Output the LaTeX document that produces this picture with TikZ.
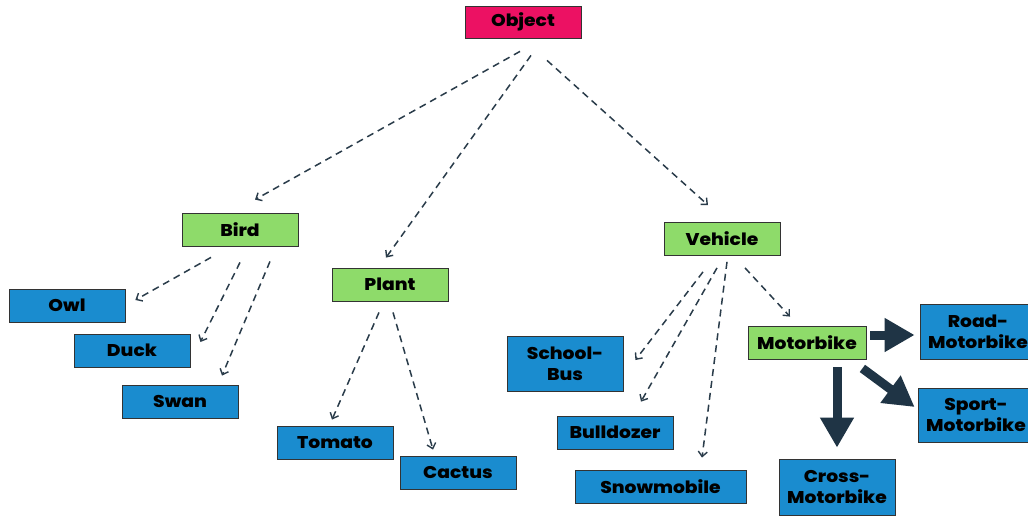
\documentclass[tikz,border=0pt]{standalone}
\usepackage{fontspec}
\newfontfamily\boxfont{Poppins}[BoldFont={Poppins ExtraBold},FakeStretch=1.1]
\usetikzlibrary{arrows.meta,calc}
\definecolor{objred}{HTML}{EC1163}
\definecolor{grn}{HTML}{8EDB6A}
\definecolor{blu}{HTML}{1A8CCF}
\definecolor{edge}{HTML}{333333}
\definecolor{dashcol}{HTML}{2A3C4A}
\definecolor{thick}{HTML}{1F3445}
\tikzset{
  box/.style={draw=edge,line width=0.8pt,minimum width=116pt,minimum height=33pt,inner sep=0pt,
    align=center,font=\boxfont\bfseries\fontsize{17}{21}\selectfont,text=black},
  root/.style={box,fill=objred,minimum height=32pt},
  mid/.style={box,fill=grn},
  leaf/.style={box,fill=blu},
  tall/.style={minimum height=55pt},
  dasharrow/.style={draw=dashcol,line width=1.5pt,dash pattern=on 7pt off 5pt,
    -{Straight Barb[length=5pt,width=9pt,line width=1.4pt]}},
  bigarrow/.style={draw=thick,line width=9pt,-{Triangle[length=30pt,width=32pt]}}
}
\begin{document}
\begin{tikzpicture}[x=1pt,y=-1pt]
\useasboundingbox[fill=white] (0,0) rectangle (1028,516);
% nodes
\node[root] (obj) at (523,22) {Object};
\node[mid] (bird) at (240,229.5) {Bird};
\node[mid] (plant) at (390,284.5) {Plant};
\node[mid] (veh) at (722,239) {Vehicle};
\node[mid,minimum width=118pt] (moto) at (807,342.5) {Motorbike};
\node[leaf] (owl) at (67,305.5) {Owl};
\node[leaf] (duck) at (132,350.5) {Duck};
\node[leaf] (swan) at (180,401.5) {Swan};
\node[leaf] (tomato) at (335,442.5) {Tomato};
\node[leaf] (cactus) at (458,472.5) {Cactus};
\node[leaf,tall] (bus) at (565,363.5) {School-\\Bus};
\node[leaf] (bull) at (615,432.5) {Bulldozer};
\node[leaf,minimum width=171pt] (snow) at (660.5,486.5) {Snowmobile};
\node[leaf,tall] (road) at (978,331.5) {Road-\\Motorbike};
\node[leaf,tall,minimum height=54pt] (sport) at (976,415) {Sport-\\Motorbike};
\node[leaf,tall,minimum height=56pt] (cross) at (837,487) {Cross-\\Motorbike};
% dashed connectors
\draw[dasharrow] ($(obj.south)+(-3,13)$) -- ($(bird.north)+(15,-13)$);
\draw[dasharrow] ($(obj.south)+(8,17)$) -- ($(plant.north)+(-4,-10)$);
\draw[dasharrow] ($(obj.south)+(24,22)$) -- ($(veh.north)+(-14,-17)$);
\draw[dasharrow] ($(bird.south)+(-29,11)$) -- ($(owl.east)+(10,-5.5)$);
\draw[dasharrow] ($(bird.south)+(0,16)$) -- ($(duck.east)+(10,-8.5)$);
\draw[dasharrow] ($(bird.south)+(30,15)$) -- ($(swan.north)+(42,-9)$);
\draw[dasharrow] ($(plant.south)+(-11,11)$) -- ($(tomato.north)+(-3,-6)$);
\draw[dasharrow] ($(plant.south)+(3,11)$) -- ($(cactus.north)+(-25,-6)$);
\draw[dasharrow] ($(veh.south)+(-19,16)$) -- ($(bus.east)+(12,-3.5)$);
\draw[dasharrow] ($(veh.south)+(-5,12)$) -- ($(bull.north)+(26,-14)$);
\draw[dasharrow] ($(veh.south)+(5,6)$) -- ($(snow.north)+(41.5,-12)$);
\draw[dasharrow] ($(veh.south)+(23,12)$) -- ($(moto.north)+(-17,-9)$);
% thick connectors
\draw[bigarrow] ($(moto.east)+(4,-7.5)$) -- ($(road.west)+(-5,3.5)$);
\draw[bigarrow] ($(moto.south east)+(-4,9)$) -- ($(sport.west)+(-3,-8)$);
\draw[bigarrow] ($(moto.south)+(30,8)$) -- ($(cross.north)+(0,-11)$);
\end{tikzpicture}
\end{document}
